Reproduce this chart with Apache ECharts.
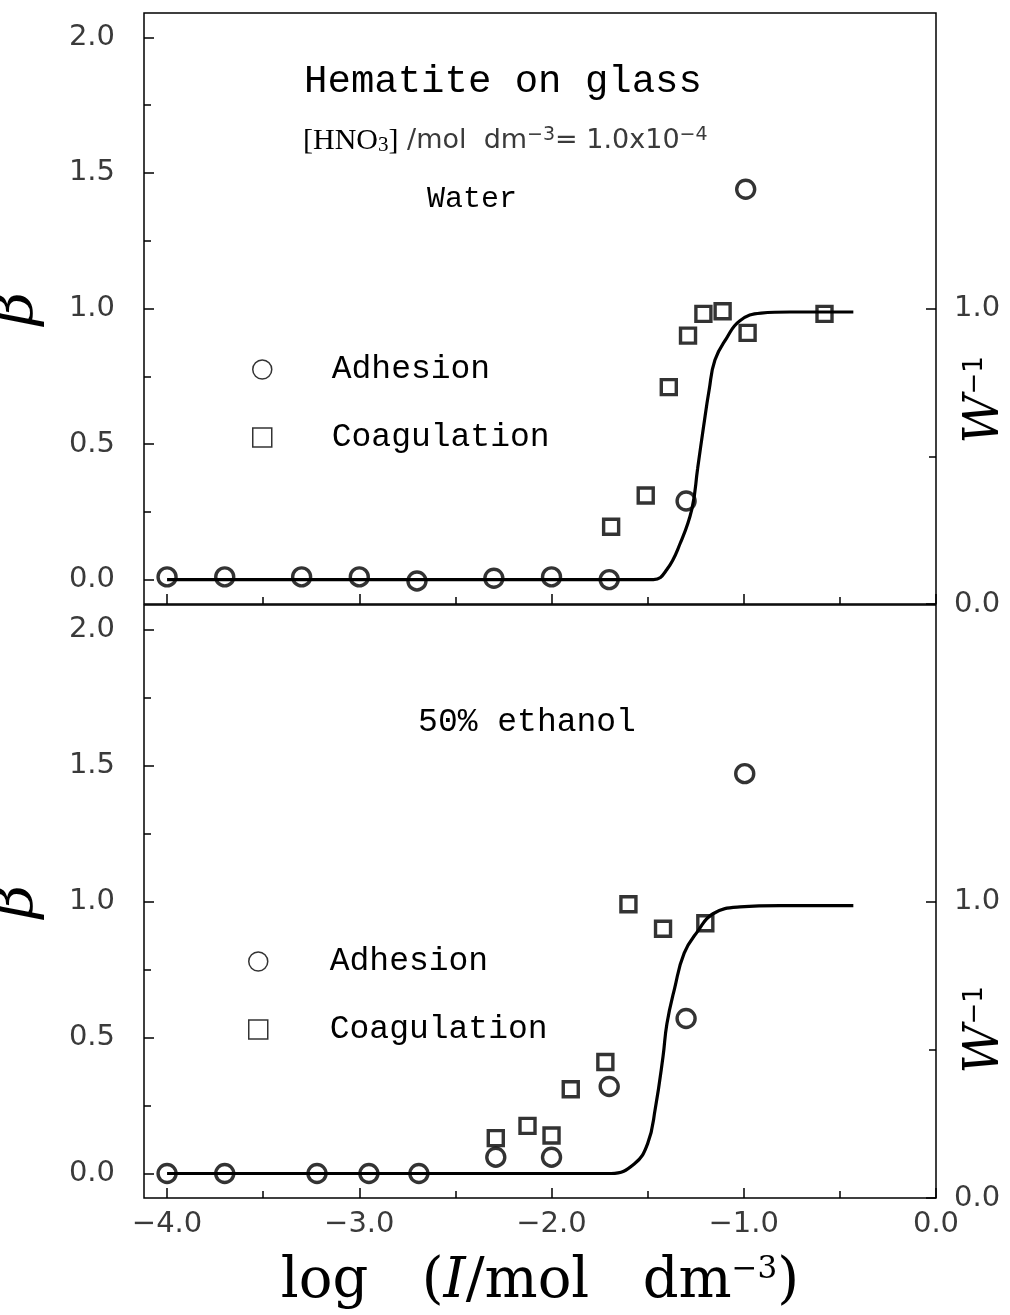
<!DOCTYPE html>
<html>
<head>
<meta charset="utf-8">
<title>Hematite on glass</title>
<script src="https://cdn.jsdelivr.net/npm/echarts@6/dist/echarts.min.js"></script>
<style>
  html, body { margin: 0; padding: 0; background: #ffffff; }
  #chart { width: 1010px; height: 1315px; }
</style>
</head>
<body>
<div id="chart"></div>
<script>
// Tick positions
const xTicksMajor = [-4, -3, -2, -1, 0];
const xTicksMinor = [-3.5, -2.5, -1.5, -0.5];
const betaTicksMajor = [0, 0.5, 1, 1.5, 2];
const betaTicksMinor = [0.25, 0.75, 1.25, 1.75];
const wTicksMajor = [0, 1];
const wTicksMinor = [0.5];

// Water panel: adhesion (circles), coagulation (squares), fitted W^-1 curve
const waterAdhesionX = [-4.0, -3.7, -3.3, -3.0, -2.7, -2.3, -2.0, -1.7, -1.3, -0.99];
const waterAdhesionY = [0.01, 0.01, 0.01, 0.01, -0.005, 0.005, 0.01, 0.0, 0.29, 1.44];
const waterCoagX = [-1.69, -1.51, -1.39, -1.29, -1.21, -1.11, -0.98, -0.58];
const waterCoagY = [0.195, 0.31, 0.71, 0.90, 0.98, 0.99, 0.91, 0.98];
const waterCurveX = [-4.0, -1.47, -1.40, -1.33, -1.27, -1.24, -1.21, -1.18, -1.15, -1.09, -1.02, -0.91, -0.76, -0.43];
const waterCurveY = [0, 0, 0.037, 0.135, 0.26, 0.41, 0.56, 0.70, 0.81, 0.89, 0.955, 0.983, 0.987, 0.987];

// 50% ethanol panel
const ethAdhesionX = [-4.0, -3.7, -3.22, -2.95, -2.69, -2.29, -2.0, -1.70, -1.30, -0.995];
const ethAdhesionY = [0, 0, 0, 0, 0, 0.06, 0.06, 0.32, 0.57, 1.47];
const ethCoagX = [-2.29, -2.125, -2.0, -1.9, -1.72, -1.6, -1.42, -1.2];
const ethCoagY = [0.13, 0.175, 0.14, 0.31, 0.41, 0.99, 0.90, 0.92];
const ethCurveX = [-4.0, -1.69, -1.57, -1.50, -1.46, -1.42, -1.40, -1.36, -1.31, -1.24, -1.16, -1.02, -0.81, -0.43];
const ethCurveY = [0, 0, 0.035, 0.11, 0.24, 0.43, 0.55, 0.68, 0.81, 0.89, 0.955, 0.98, 0.985, 0.985];

const zip = (xs, ys) => xs.map((x, i) => [x, ys[i]]);
const fmt = v => (v < 0 ? '\u2212' : '') + Math.abs(v).toFixed(1);

const INK = '#000000';
const LABEL = '#3a3a3a';
const tickFont = { fontFamily: 'DejaVu Sans', fontSize: 29, color: LABEL };
const monoFont = 'Liberation Mono';

const X_MIN = -4.12, X_MAX = 0;
const B_MIN = -0.09, B_MAX = 2.09;
const W_MIN = 0, W_MAX = 2;

// Two plot panels; each has a twin grid on the same rectangle that carries the short minor ticks
const panelTop = [13, 605];
const panelHeight = [591, 593];
const grids = [];
for (let k = 0; k < 2; k++) {
  for (let p = 0; p < 2; p++) {
    grids.push({
      left: 144, right: 74, top: panelTop[p], height: panelHeight[p],
      show: k === 0, borderColor: INK, borderWidth: 1.5, backgroundColor: 'transparent',
      containLabel: false, outerBoundsMode: 'none'
    });
  }
}

function tick(values, len) {
  return { show: true, inside: true, length: len, customValues: values, lineStyle: { color: INK, width: 1.5 } };
}
const noLine = { show: false, onZero: false };

// xAxis 0,1: main axes of panels; 2,3: minor-tick twins
const xAxis = [];
for (let p = 0; p < 2; p++) {
  const ax = {
    type: 'value', gridIndex: p, min: X_MIN, max: X_MAX, position: 'bottom',
    axisLine: noLine, splitLine: { show: false },
    axisTick: tick(xTicksMajor, 10),
    axisLabel: p === 1
      ? Object.assign({ show: true, customValues: xTicksMajor, formatter: fmt, margin: 12 }, tickFont)
      : { show: false }
  };
  if (p === 1) {
    ax.name = '{t|log   (}{i|I}{t|/mol   dm}{s|\u22123}{t|)}';
    ax.nameLocation = 'middle';
    ax.nameGap = 56;
    ax.nameTextStyle = {
      color: INK,
      rich: {
        t: { fontFamily: 'DejaVu Serif', fontSize: 56, color: INK },
        i: { fontFamily: 'DejaVu Serif', fontStyle: 'italic', fontSize: 56, color: INK },
        s: { fontFamily: 'DejaVu Serif', fontSize: 31, color: INK, verticalAlign: 'top' }
      }
    };
  }
  xAxis.push(ax);
}
for (let p = 0; p < 2; p++) {
  xAxis.push({
    type: 'value', gridIndex: p + 2, min: X_MIN, max: X_MAX, position: 'bottom',
    axisLine: noLine, splitLine: { show: false }, axisLabel: { show: false },
    axisTick: tick(xTicksMinor, 7)
  });
}

// yAxis 0..3: beta/W pairs of the panels; 4..7: minor-tick twins
const yAxis = [];
for (let p = 0; p < 2; p++) {
  yAxis.push({
    type: 'value', gridIndex: p, min: B_MIN, max: B_MAX, position: 'left',
    axisLine: noLine, splitLine: { show: false },
    axisTick: tick(betaTicksMajor, 10),
    axisLabel: Object.assign({ show: true, customValues: betaTicksMajor, formatter: fmt, margin: 29 }, tickFont),
    name: '\u03b2', nameLocation: 'middle', nameRotate: 90, nameGap: 98,
    nameTextStyle: { fontFamily: 'DejaVu Serif', fontStyle: 'italic', fontSize: 58, color: INK }
  });
  yAxis.push({
    type: 'value', gridIndex: p, min: W_MIN, max: W_MAX, position: 'right',
    axisLine: noLine, splitLine: { show: false },
    axisTick: tick(wTicksMajor, 10),
    axisLabel: Object.assign({ show: true, customValues: wTicksMajor, formatter: fmt, margin: 18 }, tickFont)
  });
}
for (let p = 0; p < 2; p++) {
  yAxis.push({
    type: 'value', gridIndex: p + 2, min: B_MIN, max: B_MAX, position: 'left',
    axisLine: noLine, splitLine: { show: false }, axisLabel: { show: false },
    axisTick: tick(betaTicksMinor, 7)
  });
  yAxis.push({
    type: 'value', gridIndex: p + 2, min: W_MIN, max: W_MAX, position: 'right',
    axisLine: noLine, splitLine: { show: false }, axisLabel: { show: false },
    axisTick: tick(wTicksMinor, 7)
  });
}

function curve(name, xi, yi, xs, ys) {
  return {
    name, type: 'line', xAxisIndex: xi, yAxisIndex: yi,
    data: zip(xs, ys), showSymbol: false, smooth: 0.45,
    lineStyle: { color: INK, width: 3.2 }, z: 2, silent: true
  };
}
function points(name, xi, yi, xs, ys, symbol, size) {
  return {
    name, type: 'scatter', xAxisIndex: xi, yAxisIndex: yi,
    data: zip(xs, ys), symbol, symbolSize: size,
    itemStyle: { color: 'rgba(0,0,0,0)', borderColor: INK, borderWidth: 3.4 }, z: 3
  };
}

function legendAt(left, top, textGap) {
  return {
    left, top, orient: 'vertical', itemGap: 35, itemWidth: 19, itemHeight: 19,
    data: [{ name: 'Adhesion', icon: 'circle' }, { name: 'Coagulation', icon: 'rect' }],
    itemStyle: { color: 'rgba(0,0,0,0)', borderColor: INK, borderWidth: 1.5 },
    textStyle: { fontFamily: monoFont, fontSize: 33, color: INK, lineHeight: 22, padding: [0, 0, 0, textGap] },
    selectedMode: false
  };
}

const wLabelRich = {
  w: { fontFamily: 'DejaVu Serif', fontStyle: 'italic', fontSize: 48, fill: INK },
  s: { fontFamily: 'DejaVu Sans', fontSize: 26, fill: INK, verticalAlign: 'top' }
};

const option = {
  backgroundColor: '#ffffff',
  animation: false,
  grid: grids,
  xAxis,
  yAxis,
  legend: [legendAt(247, 348, 55), legendAt(243, 940, 57)],
  series: [
    curve('Water W\u207b\u00b9', 0, 0, waterCurveX, waterCurveY),
    points('Adhesion', 0, 0, waterAdhesionX, waterAdhesionY, 'circle', 18),
    points('Coagulation', 0, 0, waterCoagX, waterCoagY, 'rect', 15),
    curve('Ethanol W\u207b\u00b9', 1, 2, ethCurveX, ethCurveY),
    points('Adhesion', 1, 2, ethAdhesionX, ethAdhesionY, 'circle', 18),
    points('Coagulation', 1, 2, ethCoagX, ethCoagY, 'rect', 15)
  ],
  graphic: [
    { type: 'text', x: 503, y: 82, style: { text: 'Hematite on glass', fontFamily: monoFont, fontSize: 39, fill: INK, align: 'center', verticalAlign: 'middle' } },
    { type: 'text', x: 303, y: 141, style: {
        text: '{b|[HNO}{sub|3}{b|]}{n| /mol  dm}{sup|\u22123}{n|= 1.0x10}{sup|\u22124}',
        align: 'left', verticalAlign: 'middle',
        rich: {
          b: { fontFamily: 'Liberation Serif', fontSize: 30, fill: INK },
          sub: { fontFamily: 'Liberation Serif', fontSize: 21, fill: INK, verticalAlign: 'bottom' },
          n: { fontFamily: 'DejaVu Sans', fontSize: 27, fill: LABEL },
          sup: { fontFamily: 'DejaVu Sans', fontSize: 19, fill: LABEL, verticalAlign: 'top' }
        } } },
    { type: 'text', x: 472, y: 199, style: { text: 'Water', fontFamily: monoFont, fontSize: 30, fill: INK, align: 'center', verticalAlign: 'middle' } },
    { type: 'text', x: 527, y: 722, style: { text: '50% ethanol', fontFamily: monoFont, fontSize: 33, fill: INK, align: 'center', verticalAlign: 'middle' } },
    { type: 'text', x: 986, y: 400, rotation: Math.PI / 2, style: { text: '{w|W}{s|\u22121}', align: 'center', verticalAlign: 'middle', rich: wLabelRich } },
    { type: 'text', x: 986, y: 1030, rotation: Math.PI / 2, style: { text: '{w|W}{s|\u22121}', align: 'center', verticalAlign: 'middle', rich: wLabelRich } }
  ]
};

const chart = echarts.init(document.getElementById('chart'), null, { renderer: 'canvas' });
chart.setOption(option);
</script>
</body>
</html>
